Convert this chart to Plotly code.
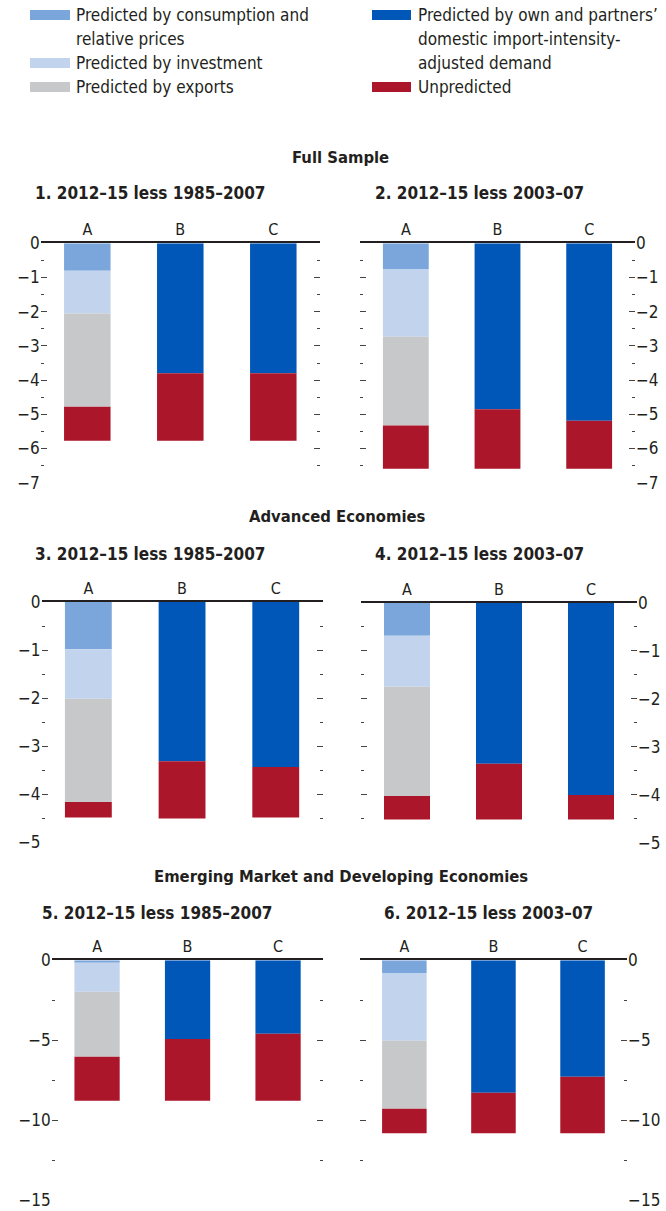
import plotly.graph_objects as go

W, H = 666, 1211

# ---------------- data ----------------
categories = ["A", "B", "C"]
panel_titles = [
    "1. 2012–15 less 1985–2007",
    "2. 2012–15 less 2003–07",
    "3. 2012–15 less 1985–2007",
    "4. 2012–15 less 2003–07",
    "5. 2012–15 less 1985–2007",
    "6. 2012–15 less 2003–07",
]
section_titles = ["Full Sample", "Advanced Economies", "Emerging Market and Developing Economies"]

# bar A components (one value per panel)
cons_A = [-0.80, -0.75, -0.98, -0.69, -0.15, -0.79]
inv_A = [-1.25, -1.98, -1.03, -1.06, -1.81, -4.25]
exp_A = [-2.73, -2.60, -2.15, -2.27, -4.07, -4.25]
unpred_A = [-0.99, -1.26, -0.32, -0.49, -2.75, -1.54]
# bars B and C components
own_B = [-3.80, -4.85, -3.31, -3.35, -4.92, -8.29]
unpred_B = [-1.97, -1.74, -1.19, -1.16, -3.86, -2.54]
own_C = [-3.80, -5.19, -3.43, -4.00, -4.59, -7.29]
unpred_C = [-1.97, -1.40, -1.05, -0.51, -4.19, -3.54]

# axis settings per panel
y_min = [-7, -7, -5, -5, -15, -15]
y_dtick = [1, 1, 1, 1, 5, 5]
y_minor = [0.5, 0.5, 0.5, 0.5, 2.5, 2.5]

series_names = [
    "Predicted by consumption and<br>relative prices",
    "Predicted by investment",
    "Predicted by exports",
    "Predicted by own and partners’<br>domestic import-intensity-<br>adjusted demand",
    "Unpredicted",
]
colors = ["#7ba6dc", "#c2d3ee", "#c7c8ca", "#0057b8", "#ab162b"]

# ---------------- layout geometry (pixels) ----------------
FONT = "Liberation Sans Narrow, DejaVu Sans Condensed, Arial Narrow, sans-serif"
TXT = "#231f20"
# plot boxes: (x0, x1, y_top, y_bottom)
boxes = [
    (40.8, 319.8, 243.3, 482.7),
    (360.0, 635.0, 243.3, 482.7),
    (41.5, 322.6, 602.0, 842.5),
    (361.0, 637.0, 602.7, 843.0),
    (51.8, 323.3, 960.3, 1200.3),
    (359.8, 627.1, 960.3, 1200.0),
]
title_pos = [(33, 193), (373, 193), (33, 554), (373, 554), (40, 913), (382, 913)]
section_pos = [(341, 157), (337, 516), (341, 876)]


def px(x):
    return x / W


def py(y):
    return 1 - y / H


fig = go.Figure()

for i in range(6):
    xa = "x" if i == 0 else f"x{i+1}"
    ya = "y" if i == 0 else f"y{i+1}"
    traces = [
        (["A"], [cons_A[i]]),
        (["A"], [inv_A[i]]),
        (["A"], [exp_A[i]]),
        (["B", "C"], [own_B[i], own_C[i]]),
        (["A", "B", "C"], [unpred_A[i], unpred_B[i], unpred_C[i]]),
    ]
    for k, (xs, ys) in enumerate(traces):
        fig.add_trace(go.Bar(
            x=xs, y=ys, name=series_names[k].replace("<br>", " "),
            marker=dict(color=colors[k], line=dict(width=0)),
            xaxis=xa, yaxis=ya, showlegend=False,
        ))

    x0, x1, yt, yb = boxes[i]
    right = (i % 2 == 1)
    xkey = "xaxis" if i == 0 else f"xaxis{i+1}"
    ykey = "yaxis" if i == 0 else f"yaxis{i+1}"
    fig.update_layout(**{
        xkey: dict(
            domain=[px(x0), px(x1)], anchor=ya, side="top", type="category",
            categoryorder="array", categoryarray=categories, range=[-0.5, 2.5],
            showline=True, linecolor="#231f20", linewidth=1.5, ticks="",
            showgrid=False, zeroline=False, automargin=False,
            tickfont=dict(family=FONT, size=16, color=TXT), fixedrange=True,
        ),
        ykey: dict(
            domain=[py(yb), py(yt)], anchor=xa, side="right" if right else "left",
            range=[y_min[i], 0], tick0=0, dtick=y_dtick[i],
            ticks="inside", ticklen=6, tickwidth=1.2, tickcolor="#444",
            mirror="ticks", showline=False, showgrid=False, zeroline=False,
            automargin=False,
            minor=dict(dtick=y_minor[i], tick0=0, ticks="inside", ticklen=3,
                       tickwidth=1.2, tickcolor="#444", showgrid=False),
            tickfont=dict(family=FONT, size=17, color=TXT), fixedrange=True,
        ),
    })

annotations = []
for i, t in enumerate(panel_titles):
    annotations.append(dict(
        text=f"<b>{t}</b>", x=px(title_pos[i][0]), y=py(title_pos[i][1]),
        xref="paper", yref="paper", xanchor="left", yanchor="middle",
        showarrow=False, font=dict(family=FONT, size=17, color=TXT),
    ))
for i, t in enumerate(section_titles):
    annotations.append(dict(
        text=f"<b>{t}</b>", x=px(section_pos[i][0]), y=py(section_pos[i][1]),
        xref="paper", yref="paper", xanchor="center", yanchor="middle",
        showarrow=False, font=dict(family=FONT, size=16.5, color=TXT),
    ))

# manual legend (two columns)
legend_rows = [(0, 15), (1, 63), (2, 87), (3, 15), (4, 87)]
shapes = []
for k, (idx, ly) in enumerate(legend_rows):
    col2 = idx >= 3
    sx0, sx1 = (372, 411) if col2 else (30, 70)
    tx = 416 if col2 else 74
    shapes.append(dict(
        type="rect", xref="paper", yref="paper",
        x0=px(sx0), x1=px(sx1), y0=py(ly + 5), y1=py(ly - 5),
        fillcolor=colors[idx], line=dict(width=0),
    ))
    for j, line in enumerate(series_names[idx].split("<br>")):
        annotations.append(dict(
            text=line, x=px(tx), y=py(ly + 24 * j), xref="paper", yref="paper",
            xanchor="left", yanchor="middle", showarrow=False,
            font=dict(family=FONT, size=17, color=TXT),
        ))

fig.update_layout(
    width=W, height=H, autosize=False, margin=dict(l=0, r=0, t=0, b=0, pad=0),
    paper_bgcolor="white", plot_bgcolor="white",
    barmode="relative", bargap=0.5, showlegend=False,
    annotations=annotations, shapes=shapes,
    font=dict(family=FONT, color=TXT),
)

fig.write_html(
    "out.html",
    config={"displayModeBar": False},
    post_script="document.body.style.margin='0';document.body.style.overflow='hidden';",
)
